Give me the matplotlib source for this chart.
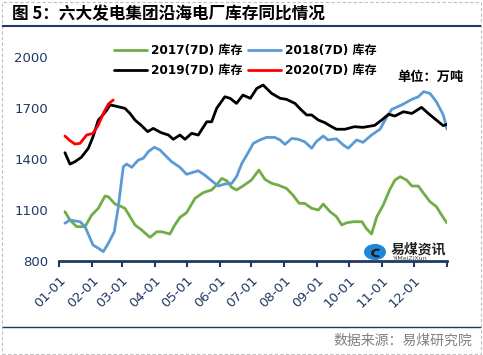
import matplotlib
matplotlib.use("Agg")
import matplotlib.pyplot as plt
from matplotlib.lines import Line2D
from matplotlib.patches import Rectangle, Circle, Wedge

plt.rcParams['font.family'] = ['DejaVu Sans', 'Noto Sans CJK SC']

# ---------------- data (day of year, 万吨) ----------------
d2017 = [5.6, 10.3, 16.6, 24.5, 30.7, 37, 43.3, 46.4, 52.7, 57.4, 62, 66.8, 71.5, 77.8, 85.6, 92, 96.6,
         104.4, 109, 113.8, 120, 128, 135.7, 143.6, 148.3, 153, 157.8, 162.5, 167, 173, 181, 188, 193.8,
         200, 206, 214, 220, 226, 231, 237.7, 244, 248.6, 255, 261, 266, 270.6, 277, 285, 289, 294, 299,
         305, 311, 316, 321, 327, 332, 338, 343, 349, 355, 360, 364.7]
v2017 = [1090, 1041, 1002, 1002, 1070, 1110, 1182, 1178, 1135, 1124, 1110, 1061, 1012, 982, 939, 972, 972,
         959, 1012, 1057, 1084, 1169, 1202, 1218, 1247, 1286, 1272, 1233, 1218, 1241, 1276, 1335, 1280,
         1257, 1247, 1227, 1188, 1139, 1139, 1110, 1100, 1135, 1090, 1061, 1012, 1025, 1031, 1031, 992, 959, 1061,
         1129, 1218, 1276, 1296, 1276, 1241, 1241, 1198, 1149, 1120, 1070, 1025]

d2018 = [5.6, 10.3, 19.8, 24.5, 32, 37, 41.7, 46.4, 52, 55.8, 60.5, 63.7, 68.4, 74.6, 79.3, 84, 89.7, 95,
         99.7, 106, 113.8, 120, 124.8, 131, 137, 143.6, 150, 156, 162.5, 167, 172, 176.6, 182.8, 189, 195,
         203, 208, 212.6, 219, 225, 231, 237.7, 242, 248.6, 253, 261, 267.5, 272, 280, 286, 294, 302, 306.7,
         313, 322, 332, 338, 343, 349, 355, 361.5, 365]
v2018 = [1022, 1041, 1031, 1002, 894, 875, 855, 904, 972, 1119, 1355, 1370, 1351, 1394, 1404, 1443, 1469, 1453,
         1423, 1384, 1351, 1310, 1319, 1331, 1306, 1272, 1241, 1253, 1257, 1296, 1374, 1423, 1492, 1512, 1527,
         1527, 1512, 1486, 1521, 1516, 1502, 1463, 1502, 1535, 1512, 1519, 1482, 1463, 1512, 1498, 1541, 1575, 1629,
         1692, 1717, 1751, 1766, 1796, 1786, 1737, 1659, 1575]

d2019 = [5.6, 10.3, 15, 21, 27.6, 32, 37, 40, 45, 48, 52.7, 62, 66.8, 71.5, 77, 83.4, 88.7, 96, 103, 107.5,
         113.8, 118.5, 124.8, 131, 139, 143.6, 148.3, 156, 161, 167, 173, 180, 186, 192, 200, 208, 214, 222,
         228, 233, 237.7, 244, 250, 256.5, 261, 269, 278, 286, 297, 303.5, 310, 316, 324, 332, 341, 347.4,
         355, 361.5, 365]
v2019 = [1437, 1370, 1384, 1410, 1463, 1531, 1629, 1649, 1688, 1718, 1712, 1698, 1668, 1629, 1600, 1561, 1580,
         1555, 1541, 1516, 1541, 1516, 1551, 1541, 1619, 1619, 1698, 1766, 1757, 1727, 1776, 1757, 1815, 1835,
         1786, 1757, 1751, 1727, 1688, 1659, 1659, 1629, 1614, 1590, 1575, 1575, 1590, 1586, 1598, 1629, 1663,
         1653, 1678, 1668, 1704, 1668, 1629, 1596, 1604]

d2020 = [5.6, 10.3, 15, 19.8, 26, 32, 37, 41.7, 46.4, 51]
v2020 = [1535, 1508, 1488, 1492, 1541, 1551, 1600, 1668, 1723, 1747]

tick_days = [0, 31, 59, 90, 120, 151, 181, 212, 243, 273, 304, 334, 365]
tick_labels = ['01-01', '02-01', '03-01', '04-01', '05-01', '06-01', '07-01',
               '08-01', '09-01', '10-01', '11-01', '12-01', '']
y_ticks = [800, 1100, 1400, 1700, 2000]

series_names = ['2017(7D) 库存', '2018(7D) 库存', '2019(7D) 库存', '2020(7D) 库存']
colors = ['#70AD47', '#5B9BD5', '#000000', '#FF0000']

NAVY = '#1F3864'
W, H = 483, 355

fig = plt.figure(figsize=(W / 100, H / 100), dpi=100)
ax = fig.add_axes([59 / W, 1 - 261 / H, (447 - 59) / W, (261 - 57) / H])

lines = []
for d, v, c, n in zip([d2017, d2018, d2019, d2020], [v2017, v2018, v2019, v2020], colors, series_names):
    ln, = ax.plot(d, v, color=c, lw=2.0, label=n, solid_capstyle='round', solid_joinstyle='round')
    lines.append(ln)

ax.set_xlim(0, 365)
ax.set_ylim(800, 2000)
ax.set_yticks(y_ticks)
ax.set_xticks(tick_days)
ax.set_xticklabels(tick_labels, rotation=45, ha='right', va='top', rotation_mode='anchor')
for s in ['top', 'right', 'left']:
    ax.spines[s].set_visible(False)
ax.spines['bottom'].set_color(NAVY)
ax.spines['bottom'].set_linewidth(2)
ax.tick_params(axis='y', length=0, pad=8, labelsize=9.5, labelcolor=NAVY)
ax.tick_params(axis='x', direction='out', length=4, width=1.5, color=NAVY, pad=5,
               labelsize=9.5, labelcolor=NAVY)

# legend (row-wise order: 2017, 2018 / 2019, 2020)
order = [0, 2, 1, 3]
leg = fig.legend(handles=[lines[i] for i in order], labels=[series_names[i] for i in order],
                 ncol=2, frameon=False, loc='upper left', bbox_to_anchor=(114 / W, 1 - 44 / H),
                 borderpad=0, borderaxespad=0,
                 handlelength=2.7, handletextpad=0.35, columnspacing=0.45,
                 labelspacing=0.6, prop={'weight': 'bold', 'size': 8.7})

fig.text(397 / W, 1 - 77 / H, '单位：万吨', fontsize=9.5, fontweight='bold', va='center', ha='left')

# title
fig.text(12 / W, 1 - 14 / H, '图 5：六大发电集团沿海电厂库存同比情况', fontsize=12,
         fontweight='bold', va='center', ha='left', family=['Noto Sans CJK SC', 'DejaVu Sans'])
fig.add_artist(Line2D([3 / W, 480 / W], [1 - 25.5 / H] * 2, color=NAVY, lw=1.5))

# footer
fig.add_artist(Line2D([3 / W, 480 / W], [1 - 327 / H] * 2, color=NAVY, lw=1.0))
fig.text(472 / W, 1 - 341 / H, '数据来源：易煤研究院', fontsize=10, color='#808080',
         va='center', ha='right', family=['Noto Sans CJK SC', 'DejaVu Sans'])

# logo
fig.add_artist(Circle((375 / W, 1 - 252 / H), 11 / W, transform=fig.transFigure,
                      facecolor='#1E88D8', edgecolor='none'))
fig.add_artist(Wedge((377 / W, 1 - 253 / H), 6 / W, 60, 300, width=3 / W,
                     transform=fig.transFigure, facecolor='#222222', edgecolor='none'))
fig.text(391 / W, 1 - 249 / H, '易煤资讯', fontsize=10, fontweight='bold', color='#222222',
         va='center', ha='left', family=['Noto Sans CJK SC', 'DejaVu Sans'])
fig.text(393 / W, 1 - 259 / H, 'YiMeiZiXun', fontsize=4.5, color='#444444', va='center', ha='left')

# dashed border
fig.add_artist(Rectangle((1.5 / W, 1.5 / H), 479.5 / W, 352 / H, transform=fig.transFigure,
                         fill=False, edgecolor='#BFBFBF', lw=0.8, linestyle=(0, (3, 2))))

fig.savefig('out.png', dpi=100)
